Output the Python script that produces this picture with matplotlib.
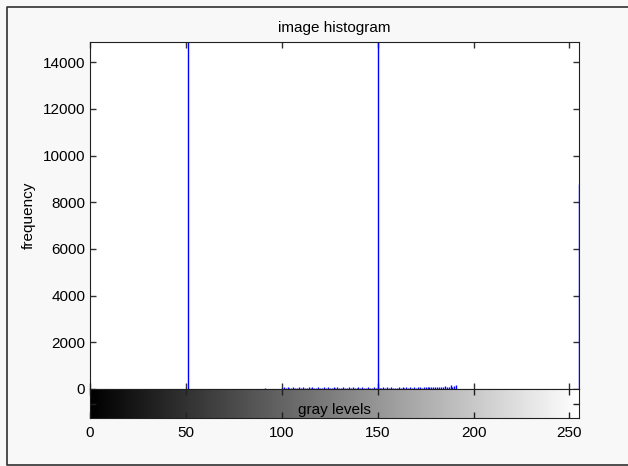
import matplotlib.pyplot as plt
import numpy as np
from matplotlib.lines import Line2D

plt.rcParams['font.family'] = ['Liberation Sans Narrow', 'Liberation Sans', 'DejaVu Sans']

# histogram counts (tall spikes are clipped by the axes)
peak_levels = [51, 150, 255]
peak_counts = [32000, 30000, 8800]
small_levels = [91] + list(range(100, 192))
small_counts = [60,
                45, 70, 50, 65, 55, 45, 75, 60, 50, 65,
                55, 70, 45, 60, 65, 50, 75, 55, 45, 70,
                60, 50, 65, 55, 70, 45, 60, 75, 50, 65,
                55, 45, 70, 60, 50, 65, 55, 75, 45, 60,
                70, 50, 65, 55, 45, 75, 60, 50, 70, 55,
                65, 45, 60, 75, 50, 70, 55, 65, 45, 60,
                50, 75, 55, 70, 60, 65, 50, 75, 55, 70,
                60, 65, 80, 55, 75, 70, 85, 65, 80, 75,
                90, 70, 85, 80, 95, 110, 75, 90, 150, 85,
                120, 160]
yticks = [0, 2000, 4000, 6000, 8000, 10000, 12000, 14000]
xticks = [0, 50, 100, 150, 200, 250]

fig = plt.figure(figsize=(6.28, 4.66), dpi=100, facecolor='#f8f8f8')
# window frame: top, left and bottom edges only
x0, y0, y1 = 7 / 628, 1 / 466, 459 / 466
fig.lines.append(Line2D([1.0, x0, x0, 1.0], [y1, y1, y0, y0], transform=fig.transFigure,
                        color='#303030', linewidth=1.2))

ax = fig.add_axes([90 / 628, 1 - 389 / 466, 489 / 628, 347 / 466])
ax.set_facecolor('white')
levels = peak_levels + small_levels
counts = peak_counts + small_counts
ax.vlines(levels, 0, counts, colors='#0000ff', linewidth=1.0)
ax.set_xlim(0, 255)
ax.set_ylim(0, 14870)
ax.set_yticks(yticks)
ax.set_yticklabels([str(v) for v in yticks], fontsize=11)
ax.set_xticks(xticks)
ax.set_xticklabels([])
ax.tick_params(direction='in', length=4, width=1, top=True, right=True, color='#303030')
for s in ax.spines.values():
    s.set_color('#202020')
ax.set_title('image histogram', fontsize=11, pad=7)
ax.set_ylabel('frequency', fontsize=11, labelpad=5)

cb = fig.add_axes([90 / 628, 1 - 418 / 466, 489 / 628, 29 / 466])
grad = np.arange(256).reshape(1, -1)
cb.imshow(grad, cmap='gray', aspect='auto', extent=[0, 255, 0, 1], vmin=0, vmax=255)
cb.set_xlim(0, 255)
cb.set_ylim(0, 1)
cb.set_xticks(xticks)
cb.set_xticklabels([str(v) for v in xticks], fontsize=11)
cb.set_yticks([0.5])
cb.set_yticklabels([])
cb.tick_params(direction='in', length=4, width=1, top=True, right=True, color='#202020', pad=6)
for s in cb.spines.values():
    s.set_color('#202020')

fig.text(0.533, 1 - 410 / 466, 'gray levels', fontsize=11, ha='center', va='center')

fig.savefig('out.png', dpi=100, facecolor=fig.get_facecolor())
